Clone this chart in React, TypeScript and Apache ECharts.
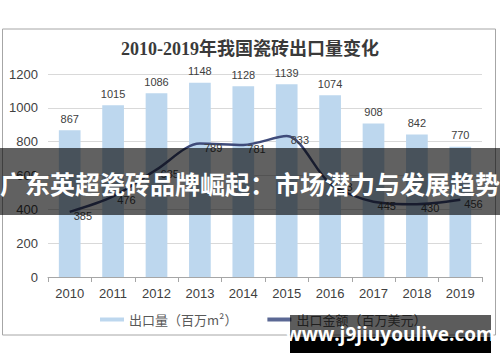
import React, { useEffect, useRef } from "react";
import * as echarts from "echarts";

const years = ["2010", "2011", "2012", "2013", "2014", "2015", "2016", "2017", "2018", "2019"];
const exportVolume = [867, 1015, 1086, 1148, 1128, 1139, 1074, 908, 842, 770];
const exportValue = [385, 476, 635, 789, 781, 833, 553, 445, 430, 456];
const titleText = "2010-2019年我国瓷砖出口量变化";
const seriesNames = ["出口量（百万m²）", "出口金额（百万美元）"];
const bannerText = "广东英超瓷砖品牌崛起：市场潜力与发展趋势";
const watermarkText = "www.j9jiuyoulive.com";

export default function App() {
  const ref = useRef<HTMLDivElement>(null);
  useEffect(() => {
    if (!ref.current) return;
    const chart = echarts.init(ref.current, undefined, { renderer: "svg" });
    const sans = "'Liberation Sans', Arial, 'Noto Sans CJK SC', sans-serif";
    chart.setOption({
      animation: false,
      backgroundColor: "#ffffff",
      title: {
        text: titleText,
        left: "center",
        top: 35,
        textStyle: {
          fontFamily: "'Liberation Serif', 'DejaVu Serif', 'Noto Sans CJK SC', serif",
          fontSize: 18,
          fontWeight: "bold",
          color: "#3a3a3a",
        },
      },
      grid: { left: 48, right: 18, top: 74, bottom: 85, containLabel: false },
      legend: {
        left: 95,
        top: 308,
        itemGap: 30,
        itemWidth: 24,
        itemHeight: 4,
        icon: "rect",
        textStyle: { fontFamily: "'Noto Sans CJK SC', sans-serif", fontSize: 13, color: "#595959" },
        data: [
          { name: seriesNames[0], icon: "rect", itemStyle: { color: "#bdd7ee" } },
          { name: seriesNames[1], icon: "rect", itemStyle: { color: "#5b6894" } },
        ],
      },
      xAxis: {
        type: "category",
        data: years,
        boundaryGap: true,
        axisLine: { lineStyle: { color: "#a6a6a6" } },
        axisTick: { show: true, alignWithLabel: false, length: 5, lineStyle: { color: "#a6a6a6" } },
        axisLabel: { fontFamily: sans, fontSize: 13, color: "#404040", margin: 10 },
      },
      yAxis: {
        type: "value",
        min: 0,
        max: 1200,
        interval: 200,
        axisLine: { show: false },
        axisTick: { show: false },
        splitLine: { lineStyle: { color: "#d9d9d9" } },
        axisLabel: {
          fontFamily: sans,
          fontSize: 13,
          color: "#404040",
          margin: 10,
          formatter: (v: number) => String(v),
        },
      },
      series: [
        {
          name: seriesNames[0],
          type: "bar",
          data: exportVolume,
          barWidth: "50%",
          itemStyle: { color: "#bdd7ee" },
          label: { show: true, position: "top", fontFamily: sans, fontSize: 11, color: "#404040", distance: 6 },
        },
        {
          name: seriesNames[1],
          type: "line",
          data: exportValue,
          smooth: 0.3,
          symbol: "circle",
          symbolSize: 0.1,
          showSymbol: true,
          lineStyle: { color: "#3f4b7a", width: 2.5 },
          itemStyle: { color: "#3f4b7a" },
          label: { show: true, position: "right", fontFamily: sans, fontSize: 11, color: "#404040", distance: 4, offset: [0, 4] },
        },
      ],
      graphic: [
        {
          type: "rect",
          z: 0,
          shape: { x: 2.5, y: 29, width: 493, height: 306 },
          style: { fill: "none", stroke: "#a6a6a6", lineWidth: 1 },
          silent: true,
        },
        {
          type: "rect",
          z: 100,
          shape: { x: 0, y: 148, width: 500, height: 67 },
          style: { fill: "rgba(0,0,0,0.62)" },
          silent: true,
        },
        {
          type: "text",
          z: 101,
          x: 250,
          y: 183,
          style: {
            text: bannerText,
            fill: "#ffffff",
            font: "bold 25px 'Noto Sans CJK SC', sans-serif",
            textAlign: "center",
            textVerticalAlign: "middle",
          },
          silent: true,
        },
        {
          type: "rect",
          z: 100,
          shape: { x: 290, y: 315, width: 201, height: 22 },
          style: { fill: "rgba(0,0,0,0.64)" },
          silent: true,
        },
        {
          type: "rect",
          z: 100,
          shape: { x: 290, y: 337, width: 201, height: 16 },
          style: { fill: "#000000" },
          silent: true,
        },
        {
          type: "text",
          z: 101,
          x: 390,
          y: 334,
          style: {
            text: watermarkText,
            fill: "#ffffff",
            font: "bold 19px 'Open Sans', 'Noto Sans', sans-serif",
            textAlign: "center",
            textVerticalAlign: "middle",
          },
          silent: true,
        },
      ],
    });
    return () => chart.dispose();
  }, []);
  return <div ref={ref} style={{ position: "fixed", left: 0, top: 0, width: 500, height: 362 }} />;
}
